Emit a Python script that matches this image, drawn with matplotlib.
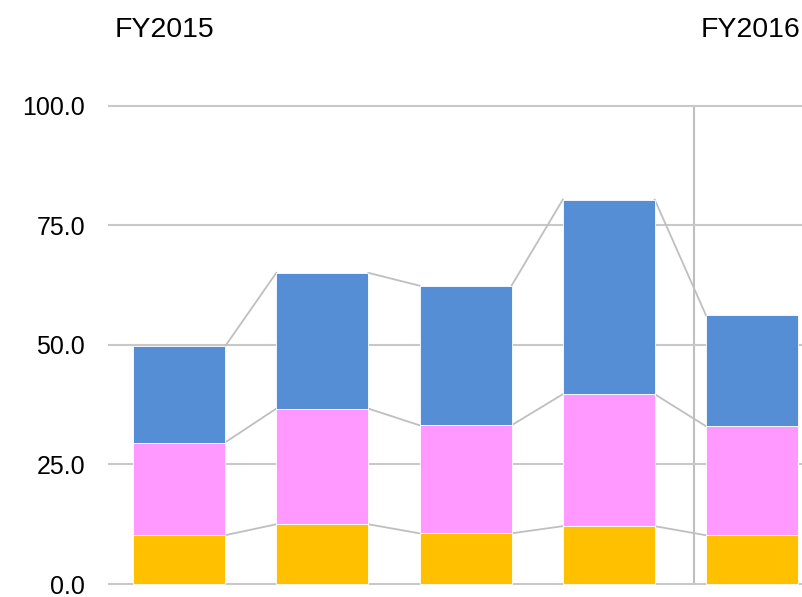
import numpy as np
import matplotlib.pyplot as plt
from matplotlib.ticker import FormatStrFormatter

plt.rcParams['font.family'] = ['Liberation Sans', 'DejaVu Sans']

positions = [0, 1, 2, 3, 4]
orange_vals = [10.2, 12.5, 10.6, 12.1, 10.2]
pink_vals = [19.4, 24.2, 22.6, 27.6, 22.8]
blue_vals = [20.1, 28.4, 29.2, 40.7, 23.2]
year_labels = ["FY2015", "FY2016"]
year_starts = [-0.447, 3.64]
year_divider = 3.595

colors = ["#FFC000", "#FF99FF", "#558ED5"]
bar_w = 0.642

fig = plt.figure(figsize=(8.03, 5.97), dpi=100)
ax = fig.add_axes([0.1345, 0.01776, 0.8655, 0.80874])

x = np.array(positions, dtype=float)
bottom = np.zeros(len(x))
for vals, c in zip([orange_vals, pink_vals, blue_vals], colors):
    vals = np.array(vals)
    ax.bar(x, vals, bar_w, bottom=bottom, color=c, edgecolor="white",
           linewidth=0.6, zorder=3)
    top = bottom + vals
    # connector lines between segment tops
    for i in range(len(x) - 1):
        ax.plot([x[i] + bar_w / 2, x[i + 1] - bar_w / 2], [top[i], top[i + 1]],
                color="#BFBFBF", lw=1.3, zorder=2)
    bottom = top

ax.axvline(year_divider, color="#BFBFBF", lw=1.5, ymin=0.005, ymax=0.995, zorder=1)

ax.set_xlim(-0.496, 4.356)
ax.set_ylim(-0.5, 100.5)
ax.set_yticks([0, 25, 50, 75, 100])
ax.yaxis.set_major_formatter(FormatStrFormatter("%.1f"))
ax.grid(axis="y", color="#C8C8C8", lw=1.5, zorder=0)
ax.set_xticks([])
ax.tick_params(axis="y", length=0, pad=16.5, labelsize=18)
for s in ax.spines.values():
    s.set_visible(False)

for lbl, xs in zip(year_labels, year_starts):
    ax.text(xs, 1.153, lbl, transform=ax.get_xaxis_transform(), fontsize=20.5,
            ha="left", va="center", clip_on=False)

fig.savefig("out.png", dpi=100)
